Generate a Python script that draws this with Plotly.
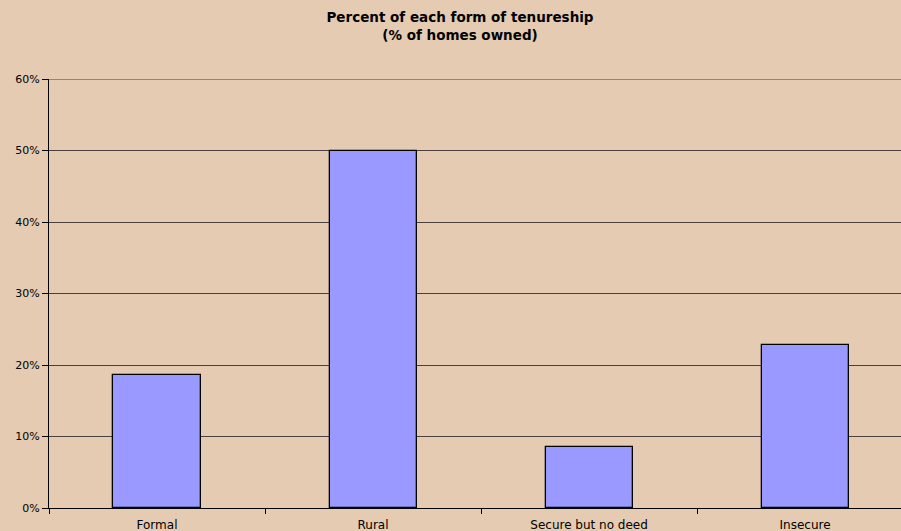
import plotly.graph_objects as go

categories = ["Formal", "Rural", "Secure but no deed", "Insecure"]
values = [18.6, 50.0, 8.5, 22.8]
y_ticks = [0, 10, 20, 30, 40, 50, 60]
y_labels = [f"{v}%" for v in y_ticks]

bg = "#E5CBB1"
font_fam = "DejaVu Sans, Liberation Sans, Arial"

fig = go.Figure(go.Bar(
    x=categories, y=values, width=0.403,
    marker=dict(color="#9999FF", line=dict(color="#000000", width=1.3)),
))

fig.update_layout(
    width=901, height=531,
    margin=dict(l=49, r=0, t=79, b=23),
    paper_bgcolor=bg, plot_bgcolor=bg,
    showlegend=False,
    font=dict(family=font_fam, size=11, color="#000000"),
    title=dict(
        text="<b>Percent of each form of tenureship<br>(% of homes owned)</b>",
        x=460 / 901, xanchor="center", yref="container",
        y=1 - 22 / 531, yanchor="middle",
        font=dict(size=13.5, family=font_fam, color="#000000"),
    ),
    bargap=0,
)
fig.add_shape(type="line", xref="paper", yref="y", x0=0, x1=1, y0=60, y1=60,
              line=dict(color="#4a4040", width=1), layer="below")
fig.update_xaxes(
    type="category", range=[-0.5, 3.444],
    showline=True, linecolor="#000000", linewidth=1,
    ticks="outside", ticklen=5, tickcolor="#000000", tickson="boundaries",
    showgrid=False, tickfont=dict(size=12), ticklabelstandoff=6,
)
fig.update_yaxes(
    range=[0, 60], tickvals=y_ticks, ticktext=y_labels,
    showline=True, linecolor="#000000", linewidth=1,
    ticks="outside", ticklen=6, tickcolor="#000000",
    showgrid=True, gridcolor="#4a4040", gridwidth=1,
    zeroline=False, tickfont=dict(size=11),
)

fig.write_html("out.html")
